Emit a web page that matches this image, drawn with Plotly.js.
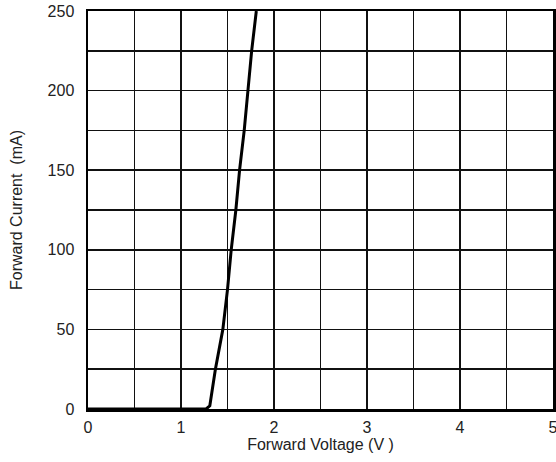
<!DOCTYPE html>
<html>
<head>
<meta charset="utf-8">
<script src="https://cdn.plot.ly/plotly-3.0.1.min.js"></script>
<style>html,body{margin:0;padding:0;background:#fff;}#chart{width:556px;height:462px;}</style>
</head>
<body>
<div id="chart"></div>
<script>
const voltage = [0, 1.27, 1.31, 1.37, 1.45, 1.50, 1.54, 1.59, 1.63, 1.68, 1.72, 1.76, 1.81];
const current = [0, 0, 2, 25, 50, 75, 100, 125, 150, 175, 200, 225, 250];
const xTickVals = [0, 1, 2, 3, 4, 5];
const xTickText = ["0", "1", "2", "3", "4", "5"];
const xTitle = "Forward Voltage (V )";
const yTitle = "Forward Current  (mA)";

const font = {family: "Liberation Sans, Arial, sans-serif", size: 16, color: "#222"};

Plotly.newPlot("chart", [{
  x: voltage, y: current, type: "scatter", mode: "lines",
  line: {color: "#000", width: 3}, hoverinfo: "none"
}], {
  width: 556, height: 462,
  margin: {l: 88, r: 3, t: 11, b: 53},
  paper_bgcolor: "#fff", plot_bgcolor: "#fff",
  font: font,
  showlegend: false,
  xaxis: {
    range: [0, 5.0005],
    tickmode: "array", tickvals: xTickVals, ticktext: xTickText,
    ticklabeloverflow: "allow",
    showgrid: true, gridcolor: "#111", gridwidth: 1.5,
    minor: {dtick: 0.5, tick0: 0, showgrid: true, gridcolor: "#111", gridwidth: 1.5, ticks: ""},
    showline: true, linecolor: "#000", linewidth: 2.5, mirror: true,
    zeroline: false, ticks: "", ticklabelstandoff: 2,
    tickfont: font,
    title: {text: xTitle, font: font, standoff: 0}
  },
  yaxis: {
    range: [0, 250], dtick: 50, tick0: 0,
    showgrid: true, gridcolor: "#111", gridwidth: 1.5,
    minor: {dtick: 25, showgrid: true, gridcolor: "#111", gridwidth: 1.5, ticks: ""},
    showline: true, linecolor: "#000", linewidth: 2.5, mirror: true,
    zeroline: false, ticks: "", ticklabelstandoff: 8,
    tickfont: font,
    title: {text: yTitle, font: font, standoff: 21}
  }
}, {staticPlot: true});
</script>
</body>
</html>
